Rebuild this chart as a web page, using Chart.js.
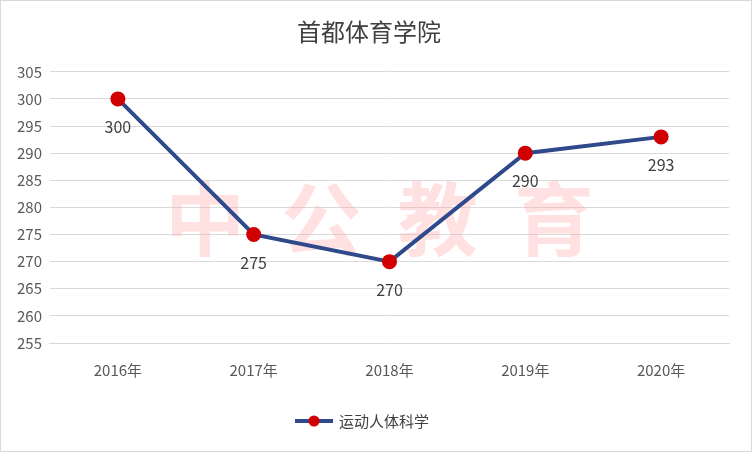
<!DOCTYPE html>
<html><head><meta charset="utf-8">
<script src="https://cdn.jsdelivr.net/npm/chart.js@4/dist/chart.umd.min.js"></script>
<style>html,body{margin:0;padding:0;background:#fff}#w{width:750px;height:450px;border:1px solid #d9d9d9;position:relative}</style>
</head><body><div id="w"><canvas id="c" width="750" height="450"></canvas></div>
<script>
const categories=["2016年","2017年","2018年","2019年","2020年"];
const values=[300,275,270,290,293];
const seriesName="运动人体科学";
const titleText="首都体育学院";
const watermark="中公教育";
const F="'Noto Sans CJK SC','Noto Sans',sans-serif";
const extras={id:'extras',
 beforeDatasetsDraw(ch){const c=ch.ctx,a=ch.chartArea;c.save();c.font="bold 80px "+F;c.fillStyle="rgba(255,170,170,0.35)";c.textAlign="center";c.textBaseline="middle";c.fillText(watermark.split('').join('  '),(a.left+a.right)/2-10,218);c.restore();},
 afterDraw(ch){const c=ch.ctx;const m=ch.getDatasetMeta(0);c.save();c.font="16px "+F;c.fillStyle="#404040";c.textAlign="center";c.textBaseline="middle";
 m.data.forEach((p,i)=>c.fillText(values[i],p.x,p.y+28));
 // legend
 const lx=294,ly=420;c.strokeStyle='#2E4A8B';c.lineWidth=4;c.beginPath();c.moveTo(lx,ly);c.lineTo(lx+38,ly);c.stroke();
 c.fillStyle='#D00000';c.beginPath();c.arc(lx+19,ly,5.5,0,Math.PI*2);c.fill();
 c.fillStyle='#404040';c.font="15px "+F;c.textAlign='left';c.fillText(seriesName,lx+44,ly);c.restore();}};
new Chart(document.getElementById('c'),{type:'line',
data:{labels:categories,datasets:[{label:seriesName,data:values,borderColor:'#2E4A8B',borderWidth:4,pointBackgroundColor:'#D00000',pointBorderColor:'#D00000',pointRadius:5.5,tension:0}]},
options:{responsive:false,animation:false,layout:{padding:{left:8,right:22,top:6,bottom:62}},
plugins:{title:{display:true,text:titleText,font:{family:F,size:24,weight:'normal'},color:'#404040',padding:{top:10,bottom:26}},
legend:{display:false},tooltip:{enabled:false}},
scales:{x:{offset:true,grid:{display:false},border:{color:'#d9d9d9'},ticks:{font:{family:F,size:15},color:'#595959',padding:10}},
y:{min:255,max:305,ticks:{stepSize:5,font:{family:F,size:15},color:'#595959',padding:8},grid:{color:'#d9d9d9',drawTicks:false},border:{display:false}}}},
plugins:[extras]});
</script></body></html>
